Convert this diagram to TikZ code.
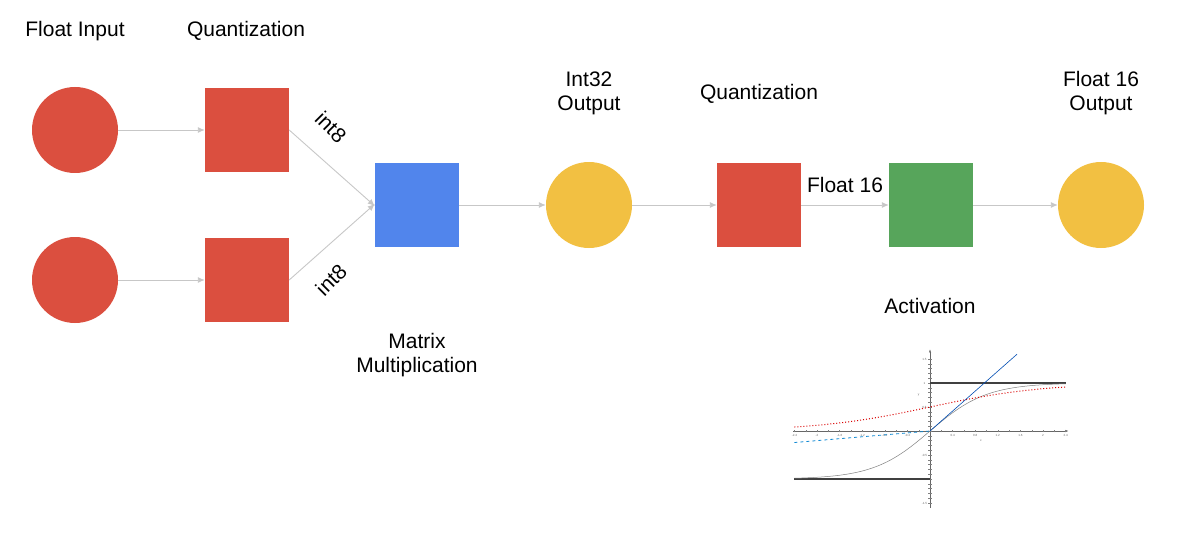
\documentclass[tikz,border=0pt]{standalone}
\usepackage{fontspec}
\setmainfont{Liberation Sans}
\usetikzlibrary{arrows.meta}
\begin{document}
\begin{tikzpicture}[x=1pt,y=-1pt,
 lbl/.style={font=\fontsize{21}{24}\selectfont,align=center},
 sq/.style={minimum size=84pt,inner sep=0,draw=none},
 cir/.style={circle,minimum size=86pt,inner sep=0},
 arr/.style={draw=black!22,line width=0.9pt,-{Latex[length=7pt,width=6pt]}},
 tk/.style={font=\fontsize{3}{3}\selectfont,text=black!60,inner sep=0}]
\useasboundingbox (0,0) rectangle (1190,540);
\definecolor{gred}{HTML}{DB4F3F}
\definecolor{gblue}{HTML}{5185EC}
\definecolor{gyel}{HTML}{F2C042}
\definecolor{ggreen}{HTML}{57A55B}
\node[cir,fill=gred] (c1) at (75,130) {};
\node[cir,fill=gred] (c2) at (75,280) {};
\node[sq,fill=gred] (q1) at (247,130) {};
\node[sq,fill=gred] (q2) at (247,280) {};
\node[sq,fill=gblue] (mm) at (417,205) {};
\node[cir,fill=gyel] (o32) at (589,205) {};
\node[sq,fill=gred] (q3) at (759,205) {};
\node[sq,fill=ggreen] (act) at (931,205) {};
\node[cir,fill=gyel] (o16) at (1101,205) {};
\draw[arr] (c1) -- (q1);
\draw[arr] (c2) -- (q2);
\draw[arr] (q1.east) -- ([yshift=-1pt]mm.west);
\draw[arr] (q2.east) -- ([yshift=1pt]mm.west);
\draw[arr] (mm) -- (o32);
\draw[arr] (o32) -- (q3);
\draw[arr] (q3) -- (act);
\draw[arr] (act) -- (o16);
\node[lbl] (t1) at (75,31) {Float Input};
\node[lbl] (t2) at (246,31) {Quantization};
\node[lbl,rotate=-45] (t3) at (331,127) {int8};
\node[lbl,rotate=45] (t4) at (331,280) {int8};
\node[lbl] (t5) at (589,93) {Int32\\Output};
\node[lbl] (t6) at (759,94) {Quantization};
\node[lbl] (t7) at (845,185) {Float 16};
\node[lbl] (t8) at (1101,93) {Float 16\\Output};
\node[lbl] (t9) at (930,306) {Activation};
\node[lbl] (t10) at (417,355) {Matrix\\Multiplication};
% activation plot
\begin{scope}[shift={(930,431)},x=56.5pt,y=48pt]
\draw[black!60,line width=0.4pt,-{Latex[length=3pt]}] (-2.42,0) -- (2.45,0);
\draw[black!60,line width=0.4pt,-{Latex[length=3pt]}] (0,-1.6) -- (0,1.7);
\foreach \t in {-2.4,-2.2,...,2.41} \draw[black!50,line width=0.3pt] (\t,-0.03) -- (\t,0.03);
\foreach \t in {-1.5,-1.4,...,1.55} \draw[black!50,line width=0.3pt] (-0.03,\t) -- (0.03,\t);
\foreach \t/\l [count=\i] in {-2.4/-2.4,-2/-2,-1.6/-1.6,-1.2/-1.2,-0.8/-0.8,-0.4/-0.4,0.4/0.4,0.8/0.8,1.2/1.2,1.6/1.6,2/2,2.4/2.4}
  \node[tk] (xl\i) at (\t,-0.1) {\l};
\foreach \t/\l [count=\i] in {1.5/1.5,1/1,0.5/0.5,-0.5/-0.5,-1/-1,-1.5/-1.5}
  \node[tk] (yl\i) at (-0.1,\t) {\l};
\node[tk] (ylab) at (-0.2,0.75) {y};
\node[tk] (xlab) at (0.9,-0.2) {x};
\draw[black!75,line width=1.2pt] (0,1) -- (2.4,1);
\draw[black!75,line width=1.2pt] (-2.4,-1) -- (0,-1);
\draw[black!50,line width=0.5pt,domain=-2.4:2.4,samples=80] plot (\x,{tanh(\x)});
\draw[red!85!black,dotted,line width=1pt,domain=-2.4:2.4,samples=60] plot (\x,{1/(1+exp(-\x))});
\draw[cyan!70!blue,dashed,line width=0.8pt] (-2.4,-0.24) -- (0,0);
\draw[teal!60!blue,line width=0.6pt] (0,0) -- (1.54,1.6);
\end{scope}
\end{tikzpicture}
\end{document}
